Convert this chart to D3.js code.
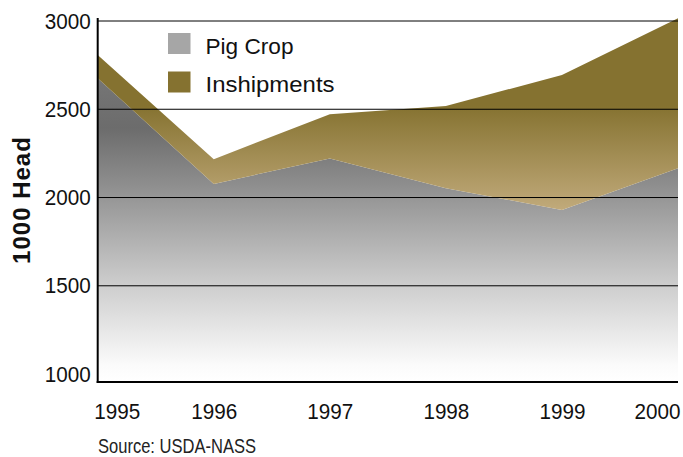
<!DOCTYPE html>
<html>
<head>
<meta charset="utf-8">
<script src="https://cdn.jsdelivr.net/npm/d3@7"></script>
<style>
  body { margin: 0; background: #fff; }
  svg { display: block; }
  .narrow { font-family: "Liberation Sans", Arial, sans-serif; }
</style>
</head>
<body>
<script>
// values (1000 head)
const years = [1995, 1996, 1997, 1998, 1999, 2000];
const pigCrop = [2676, 2077, 2221, 2053, 1930, 2166];
const inshipments = [132, 140, 251, 466, 764, 849];
const yTicks = [1000, 1500, 2000, 2500, 3000];
const seriesNames = ["Pig Crop", "Inshipments"];
const seriesColors = ["#a6a6a6", "#857230"];
const legendTextWidths = [88, 129]; // condensed look

const svgWidth = 683, svgHeight = 457;
const plotLeft = 97.7, plotRight = 678, plotTop = 21, plotBottom = 382;

const svg = d3.select("body").append("svg")
  .attr("width", svgWidth)
  .attr("height", svgHeight);

const x = d3.scaleLinear().domain([1995, 2000]).range([plotLeft, plotRight]);
const y = d3.scaleLinear().domain([955, 3000]).range([plotBottom, plotTop]);

const rows = years.map((yr, i) => ({ year: yr, pig: pigCrop[i], insh: inshipments[i] }));
const stacked = d3.stack().keys(["pig", "insh"])(rows);

// gradients
const defs = svg.append("defs");
const gGrey = defs.append("linearGradient").attr("id", "greyGrad")
  .attr("gradientUnits", "userSpaceOnUse")
  .attr("x1", 0).attr("x2", 0).attr("y1", y(2800)).attr("y2", y(955));
[[0, "#7a7a7a"], [0.22, "#6c6c6c"], [0.4, "#8f8f8f"], [0.69, "#cbcbcb"], [0.95, "#fbfbfb"], [1, "#ffffff"]]
  .forEach(s => gGrey.append("stop").attr("offset", s[0]).attr("stop-color", s[1]));

const gTan = defs.append("linearGradient").attr("id", "tanGrad")
  .attr("gradientUnits", "userSpaceOnUse")
  .attr("x1", 0).attr("x2", 0).attr("y1", y(2520)).attr("y2", y(1920));
[[0, "#857230"], [1, "#c2ab7c"]]
  .forEach(s => gTan.append("stop").attr("offset", s[0]).attr("stop-color", s[1]));

const area = d3.area()
  .x(d => x(d.data.year))
  .y0(d => d[0] === 0 ? y(955) : y(d[0]))
  .y1(d => y(d[1]));

svg.append("g").selectAll("path")
  .data(stacked)
  .join("path")
  .attr("d", area)
  .attr("fill", (d, i) => i === 0 ? "url(#greyGrad)" : "url(#tanGrad)");

// gridlines
svg.append("g").selectAll("line")
  .data(yTicks.filter(t => t > 1000))
  .join("line")
  .attr("x1", plotLeft).attr("x2", plotRight)
  .attr("y1", d => y(d)).attr("y2", d => y(d))
  .attr("stroke", "#000").attr("stroke-width", 1);

// axes lines
svg.append("line")
  .attr("x1", plotLeft).attr("x2", plotLeft).attr("y1", plotTop - 3).attr("y2", plotBottom + 1)
  .attr("stroke", "#000").attr("stroke-width", 2);
svg.append("line")
  .attr("x1", plotLeft - 1).attr("x2", plotRight).attr("y1", plotBottom).attr("y2", plotBottom)
  .attr("stroke", "#000").attr("stroke-width", 2);

// y axis labels
const yAxis = svg.append("g")
  .attr("transform", `translate(${plotLeft},0)`)
  .call(d3.axisLeft(y).tickValues(yTicks).tickSize(0).tickPadding(7).tickFormat(d3.format("d")));
yAxis.select(".domain").remove();
yAxis.selectAll("text")
  .attr("class", "narrow")
  .style("font-size", "22px")
  .attr("textLength", 46)
  .attr("lengthAdjust", "spacingAndGlyphs")
  .attr("fill", "#111");

// x axis labels
const xAxis = svg.append("g")
  .attr("transform", `translate(0,${plotBottom})`)
  .call(d3.axisBottom(x).tickValues(years).tickSize(0).tickPadding(21).tickFormat(d3.format("d")));
xAxis.select(".domain").remove();
xAxis.selectAll("text")
  .attr("class", "narrow")
  .style("font-size", "22px")
  .attr("textLength", 46)
  .attr("lengthAdjust", "spacingAndGlyphs")
  .attr("fill", "#111")
  .attr("text-anchor", (d, i) => i === 0 ? "start" : (i === years.length - 1 ? "end" : "middle"))
  .attr("dx", (d, i) => i === 0 ? -4 : (i === years.length - 1 ? 2 : 0));

// y title
svg.append("text")
  .attr("transform", "translate(30,200) rotate(-90)")
  .attr("text-anchor", "middle")
  .style("font-family", "'Liberation Sans', Arial, sans-serif")
  .style("font-weight", "bold")
  .style("font-size", "24px")
  .style("letter-spacing", "1px")
  .attr("fill", "#111")
  .text("1000 Head");

// legend
const legend = svg.append("g").attr("transform", "translate(168,33)");
const item = legend.selectAll("g")
  .data(seriesNames)
  .join("g")
  .attr("transform", (d, i) => `translate(0,${i * 38.5})`);
item.append("rect")
  .attr("width", 22.5).attr("height", 21)
  .attr("fill", (d, i) => seriesColors[i]);
item.append("text")
  .attr("class", "narrow")
  .attr("x", 37.5).attr("y", 20.5)
  .style("font-size", "22px")
  .attr("textLength", (d, i) => legendTextWidths[i])
  .attr("lengthAdjust", "spacingAndGlyphs")
  .attr("fill", "#111")
  .text(d => d);

// source
svg.append("text")
  .attr("class", "narrow")
  .attr("x", 98).attr("y", 453)
  .style("font-size", "21px")
  .attr("textLength", 158)
  .attr("lengthAdjust", "spacingAndGlyphs")
  .attr("fill", "#222")
  .text("Source: USDA-NASS");
</script>
</body>
</html>
